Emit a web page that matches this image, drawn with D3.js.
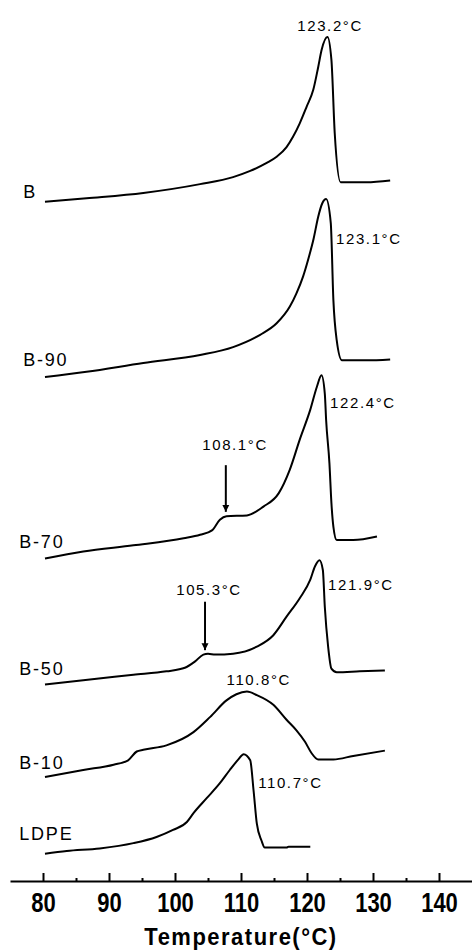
<!DOCTYPE html>
<html><head><meta charset="utf-8">
<script src="https://cdn.jsdelivr.net/npm/d3@7"></script>
<style>html,body{margin:0;padding:0;background:#fff;} svg{display:block;background:#fff;}</style>
</head><body><svg id="chart" width="472" height="951"></svg>
<script>
// ---- data (temperature in °C, heat flow in arbitrary offset units) ----
const samples = ["B", "B-90", "B-70", "B-50", "B-10", "LDPE"];

const tempB   = [80.3, 86.6, 95.2, 103.8, 108.8, 111.4, 113.9, 115.4, 116.9, 117.9, 118.9, 119.95, 120.95, 121.7, 122.2, 123.1, 123.7, 124.2, 125.1, 129.0, 132.6];
const heatB   = [77.1, 77.5, 78.1, 79.1, 79.9, 80.6, 81.5, 82.2, 83.3, 84.5, 86.0, 87.9, 89.8, 92.4, 94.3, 95.8, 93.2, 84.9, 79.3, 79.3, 79.5];

const tempB90 = [80.3, 86.6, 95.2, 103.8, 108.8, 112.9, 115.4, 117.4, 118.4, 119.4, 120.2, 121.0, 121.7, 122.3, 122.9, 123.6, 124.0, 124.5, 125.3, 129.0, 132.6];
const heatB90 = [57.2, 57.8, 58.8, 59.7, 60.6, 62.0, 63.3, 65.2, 66.7, 68.6, 70.6, 72.9, 75.4, 76.9, 77.4, 74.7, 65.9, 61.4, 59.1, 59.1, 59.2];

const tempB70 = [80.3, 86.1, 93.7, 101.3, 103.8, 105.6, 106.8, 107.8, 110.9, 113.4, 115.7, 117.4, 118.9, 120.5, 121.5, 122.2, 122.7, 122.9, 123.4, 123.7, 124.0, 124.5, 127.0, 130.6];
const heatB70 = [36.6, 37.4, 38.1, 38.9, 39.3, 39.8, 41.0, 41.4, 41.5, 42.5, 44.0, 46.7, 50.1, 53.5, 56.1, 57.4, 55.3, 52.3, 47.4, 42.9, 40.2, 38.7, 38.7, 39.1];

const tempB50 = [80.3, 86.1, 93.7, 98.7, 101.5, 103.0, 104.3, 105.0, 106.1, 108.8, 112.4, 114.9, 116.9, 118.9, 120.5, 121.2, 121.9, 122.4, 122.7, 123.2, 123.7, 124.5, 128.0, 131.8];
const heatB50 = [22.3, 22.8, 23.4, 23.8, 24.2, 24.9, 25.7, 25.8, 25.7, 25.8, 26.6, 27.9, 30.0, 32.1, 34.2, 35.7, 36.4, 35.3, 31.1, 26.6, 24.1, 23.7, 23.8, 23.9];

const tempB10 = [80.3, 86.1, 90.7, 92.9, 94.2, 95.2, 98.7, 102.8, 105.3, 107.8, 109.3, 110.9, 112.4, 114.9, 116.9, 118.4, 119.7, 120.7, 121.7, 124.0, 127.0, 131.8];
const heatB10 = [11.8, 12.6, 13.2, 13.7, 14.7, 14.9, 15.4, 16.9, 18.6, 20.5, 21.2, 21.5, 21.1, 20.0, 18.3, 17.1, 15.8, 14.5, 13.8, 13.8, 14.2, 14.8];

const tempLDPE = [80.3, 83.6, 88.6, 93.7, 97.2, 99.7, 101.8, 102.8, 104.8, 106.8, 108.3, 109.6, 110.4, 111.4, 111.9, 112.4, 113.1, 113.6, 116.9, 117.2, 120.5];
const heatLDPE = [3.1, 3.4, 3.7, 4.3, 5.0, 5.8, 6.7, 7.7, 9.4, 11.1, 12.6, 13.8, 14.4, 13.7, 10.3, 6.5, 4.6, 3.8, 3.8, 3.9, 3.9];

const majorTicks = [80, 90, 100, 110, 120, 130, 140];
const minorTicks = [85, 95, 105, 115, 125, 135];
const axisTitle = "Temperature(°C)";

// peak annotations: text, anchor temperature, anchor heat-flow level
const peakText  = ["123.2°C", "123.1°C", "122.4°C", "108.1°C", "121.9°C", "105.3°C", "110.8°C", "110.7°C"];
const peakTemp  = [123.5, 124.4, 123.5, 109.1, 123.2, 105.15, 112.7, 112.6];
const peakLevel = [96.5, 72.3, 53.7, 48.9, 33.0, 32.5, 22.2, 10.6];
const peakAlign = ["middle", "start", "start", "middle", "start", "middle", "middle", "start"];

// arrows: temperature, start level, end level
const arrowTemp = [107.7, 104.55];
const arrowFrom = [47.2, 31.7];
const arrowTo   = [41.9, 26.2];

// sample label anchors
const labelTemp  = [77.0, 77.0, 76.4, 76.4, 76.4, 76.4];
const labelLevel = [77.5, 58.4, 37.8, 23.4, 12.7, 4.6];

// ---- chart ----
const svg = d3.select("#chart");
const x = d3.scaleLinear().domain([75, 145]).range([10, 472]);
const y = d3.scaleLinear().domain([0, 100]).range([881, 0]);

const series = [
  [tempB, heatB], [tempB90, heatB90], [tempB70, heatB70],
  [tempB50, heatB50], [tempB10, heatB10], [tempLDPE, heatLDPE]
];

const line = d3.line()
  .x(d => x(d[0])).y(d => y(d[1]))
  .curve(d3.curveMonotoneX);

series.forEach(([t, h]) => {
  svg.append("path")
    .datum(t.map((v, i) => [v, h[i]]))
    .attr("d", line)
    .attr("fill", "none")
    .attr("stroke", "#000")
    .attr("stroke-width", 2)
    .attr("stroke-linejoin", "round");
});

// sample labels
samples.forEach((s, i) => {
  svg.append("text")
    .attr("x", x(labelTemp[i])).attr("y", y(labelLevel[i]))
    .attr("font-family", "Liberation Sans, Arial, sans-serif")
    .attr("font-size", 18)
    .attr("letter-spacing", 1.8)
    .attr("fill", "#000")
    .text(s);
});

// peak labels
peakText.forEach((s, i) => {
  svg.append("text")
    .attr("x", x(peakTemp[i])).attr("y", y(peakLevel[i]))
    .attr("text-anchor", peakAlign[i])
    .attr("font-family", "Liberation Sans, Arial, sans-serif")
    .attr("font-size", 15)
    .attr("letter-spacing", 1.6)
    .attr("fill", "#000")
    .text(s);
});

// arrows
svg.append("defs").append("marker")
  .attr("id", "ah").attr("viewBox", "0 0 10 10")
  .attr("refX", 10).attr("refY", 5)
  .attr("markerWidth", 7).attr("markerHeight", 10)
  .attr("markerUnits", "userSpaceOnUse")
  .attr("orient", "auto")
  .append("path").attr("d", "M0,0 L10,5 L0,10 Z").attr("fill", "#000");

arrowTemp.forEach((t, i) => {
  svg.append("line")
    .attr("x1", x(t)).attr("x2", x(t))
    .attr("y1", y(arrowFrom[i])).attr("y2", y(arrowTo[i]))
    .attr("stroke", "#000").attr("stroke-width", 2)
    .attr("marker-end", "url(#ah)");
});

// x axis
const axisG = svg.append("g").attr("transform", `translate(0,${y(0)})`);
axisG.call(d3.axisBottom(x).tickValues(majorTicks).tickSizeInner(-8).tickSizeOuter(0).tickFormat(d3.format("d")));
axisG.select(".domain").attr("stroke-width", 2).attr("stroke", "#000");
axisG.selectAll(".tick line").attr("stroke-width", 2).attr("stroke", "#000");
axisG.selectAll(".tick text")
  .attr("y", 0).attr("dy", null)
  .attr("transform", "translate(0,30.7) scale(1,1.27)")
  .attr("font-family", "Liberation Sans, Arial, sans-serif")
  .attr("font-weight", "bold")
  .attr("font-size", 22)
  .attr("fill", "#000");

const minorG = svg.append("g").attr("transform", `translate(0,${y(0)})`);
minorG.call(d3.axisBottom(x).tickValues(minorTicks).tickSizeInner(-3).tickSizeOuter(0).tickFormat(""));
minorG.select(".domain").remove();
minorG.selectAll(".tick line").attr("stroke-width", 2).attr("stroke", "#000");

svg.append("text")
  .attr("transform", `translate(${x(110)},945) scale(1,1.08)`)
  .attr("text-anchor", "middle")
  .attr("font-family", "Liberation Sans, Arial, sans-serif")
  .attr("font-weight", "bold")
  .attr("font-size", 22)
  .attr("letter-spacing", 1.5)
  .attr("fill", "#000")
  .text(axisTitle);
</script></body></html>
